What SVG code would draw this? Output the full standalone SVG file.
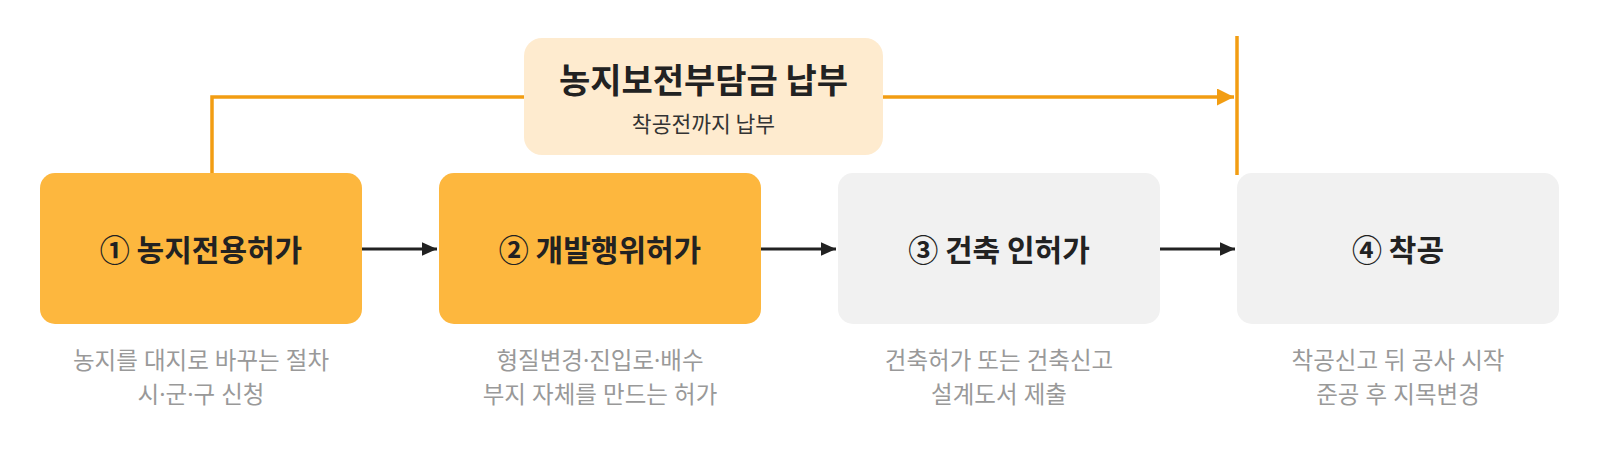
<svg xmlns="http://www.w3.org/2000/svg" width="1600" height="450" viewBox="0 0 1600 450">
<style>
text{font-family:"Noto Sans CJK KR","Noto Sans",sans-serif;text-anchor:middle}
.t{font-size:30px;font-weight:700;fill:#222}
.s{font-family:"Noto Sans","Noto Sans CJK KR",sans-serif;font-size:23.5px;fill:#999}
.orange{fill:#FDB73E}
.gray{fill:#F1F1F1}
.blk{stroke:#222;stroke-width:3;fill:none}
.org{stroke:#F29D12;stroke-width:3.5;fill:none}
</style>
<defs>
<marker id="ah" viewBox="0 0 10 10" refX="10" refY="5" markerWidth="15" markerHeight="15" markerUnits="userSpaceOnUse" orient="auto"><path d="M0,0.5L10,5L0,9.5z" fill="#222"/></marker>
<marker id="ao" viewBox="0 0 10 10" refX="10" refY="5" markerWidth="17" markerHeight="17" markerUnits="userSpaceOnUse" orient="auto"><path d="M0,0L10,5L0,10z" fill="#F29D12"/></marker>
</defs>
<rect width="1600" height="450" fill="#fff"/>
<g id="connectors">
<path class="org" d="M212,174V97H526"/>
<path class="org" d="M881,97H1234" marker-end="url(#ao)"/>
<line class="org" x1="1237" y1="36" x2="1237" y2="175"/>
<line class="blk" x1="362" y1="249" x2="437" y2="249" marker-end="url(#ah)"/>
<line class="blk" x1="761" y1="249" x2="836" y2="249" marker-end="url(#ah)"/>
<line class="blk" x1="1160" y1="249" x2="1235" y2="249" marker-end="url(#ah)"/>
</g>
<g id="fee">
<rect x="524" y="38" width="359" height="117" rx="18" fill="#FEEBCF"/>
<text x="703.5" y="93" style="font-size:34px;font-weight:700;fill:#222">농지보전부담금 납부</text>
<text x="703.5" y="132" style="font-size:21.5px;fill:#333">착공전까지 납부</text>
</g>
<g id="n1">
<rect class="orange" x="40" y="173" width="322" height="151" rx="15"/>
<text class="t" x="201" y="260.5">① 농지전용허가</text>
<text class="s" x="201" y="369">농지를 대지로 바꾸는 절차</text>
<text class="s" x="201" y="403">시·군·구 신청</text>
</g>
<g id="n2">
<rect class="orange" x="439" y="173" width="322" height="151" rx="15"/>
<text class="t" x="600" y="260.5">② 개발행위허가</text>
<text class="s" x="600" y="369">형질변경·진입로·배수</text>
<text class="s" x="600" y="403">부지 자체를 만드는 허가</text>
</g>
<g id="n3">
<rect class="gray" x="838" y="173" width="322" height="151" rx="15"/>
<text class="t" x="999" y="260.5">③ 건축 인허가</text>
<text class="s" x="999" y="369">건축허가 또는 건축신고</text>
<text class="s" x="999" y="403">설계도서 제출</text>
</g>
<g id="n4">
<rect class="gray" x="1237" y="173" width="322" height="151" rx="15"/>
<text class="t" x="1398" y="260.5">④ 착공</text>
<text class="s" x="1398" y="369">착공신고 뒤 공사 시작</text>
<text class="s" x="1398" y="403">준공 후 지목변경</text>
</g>
</svg>
